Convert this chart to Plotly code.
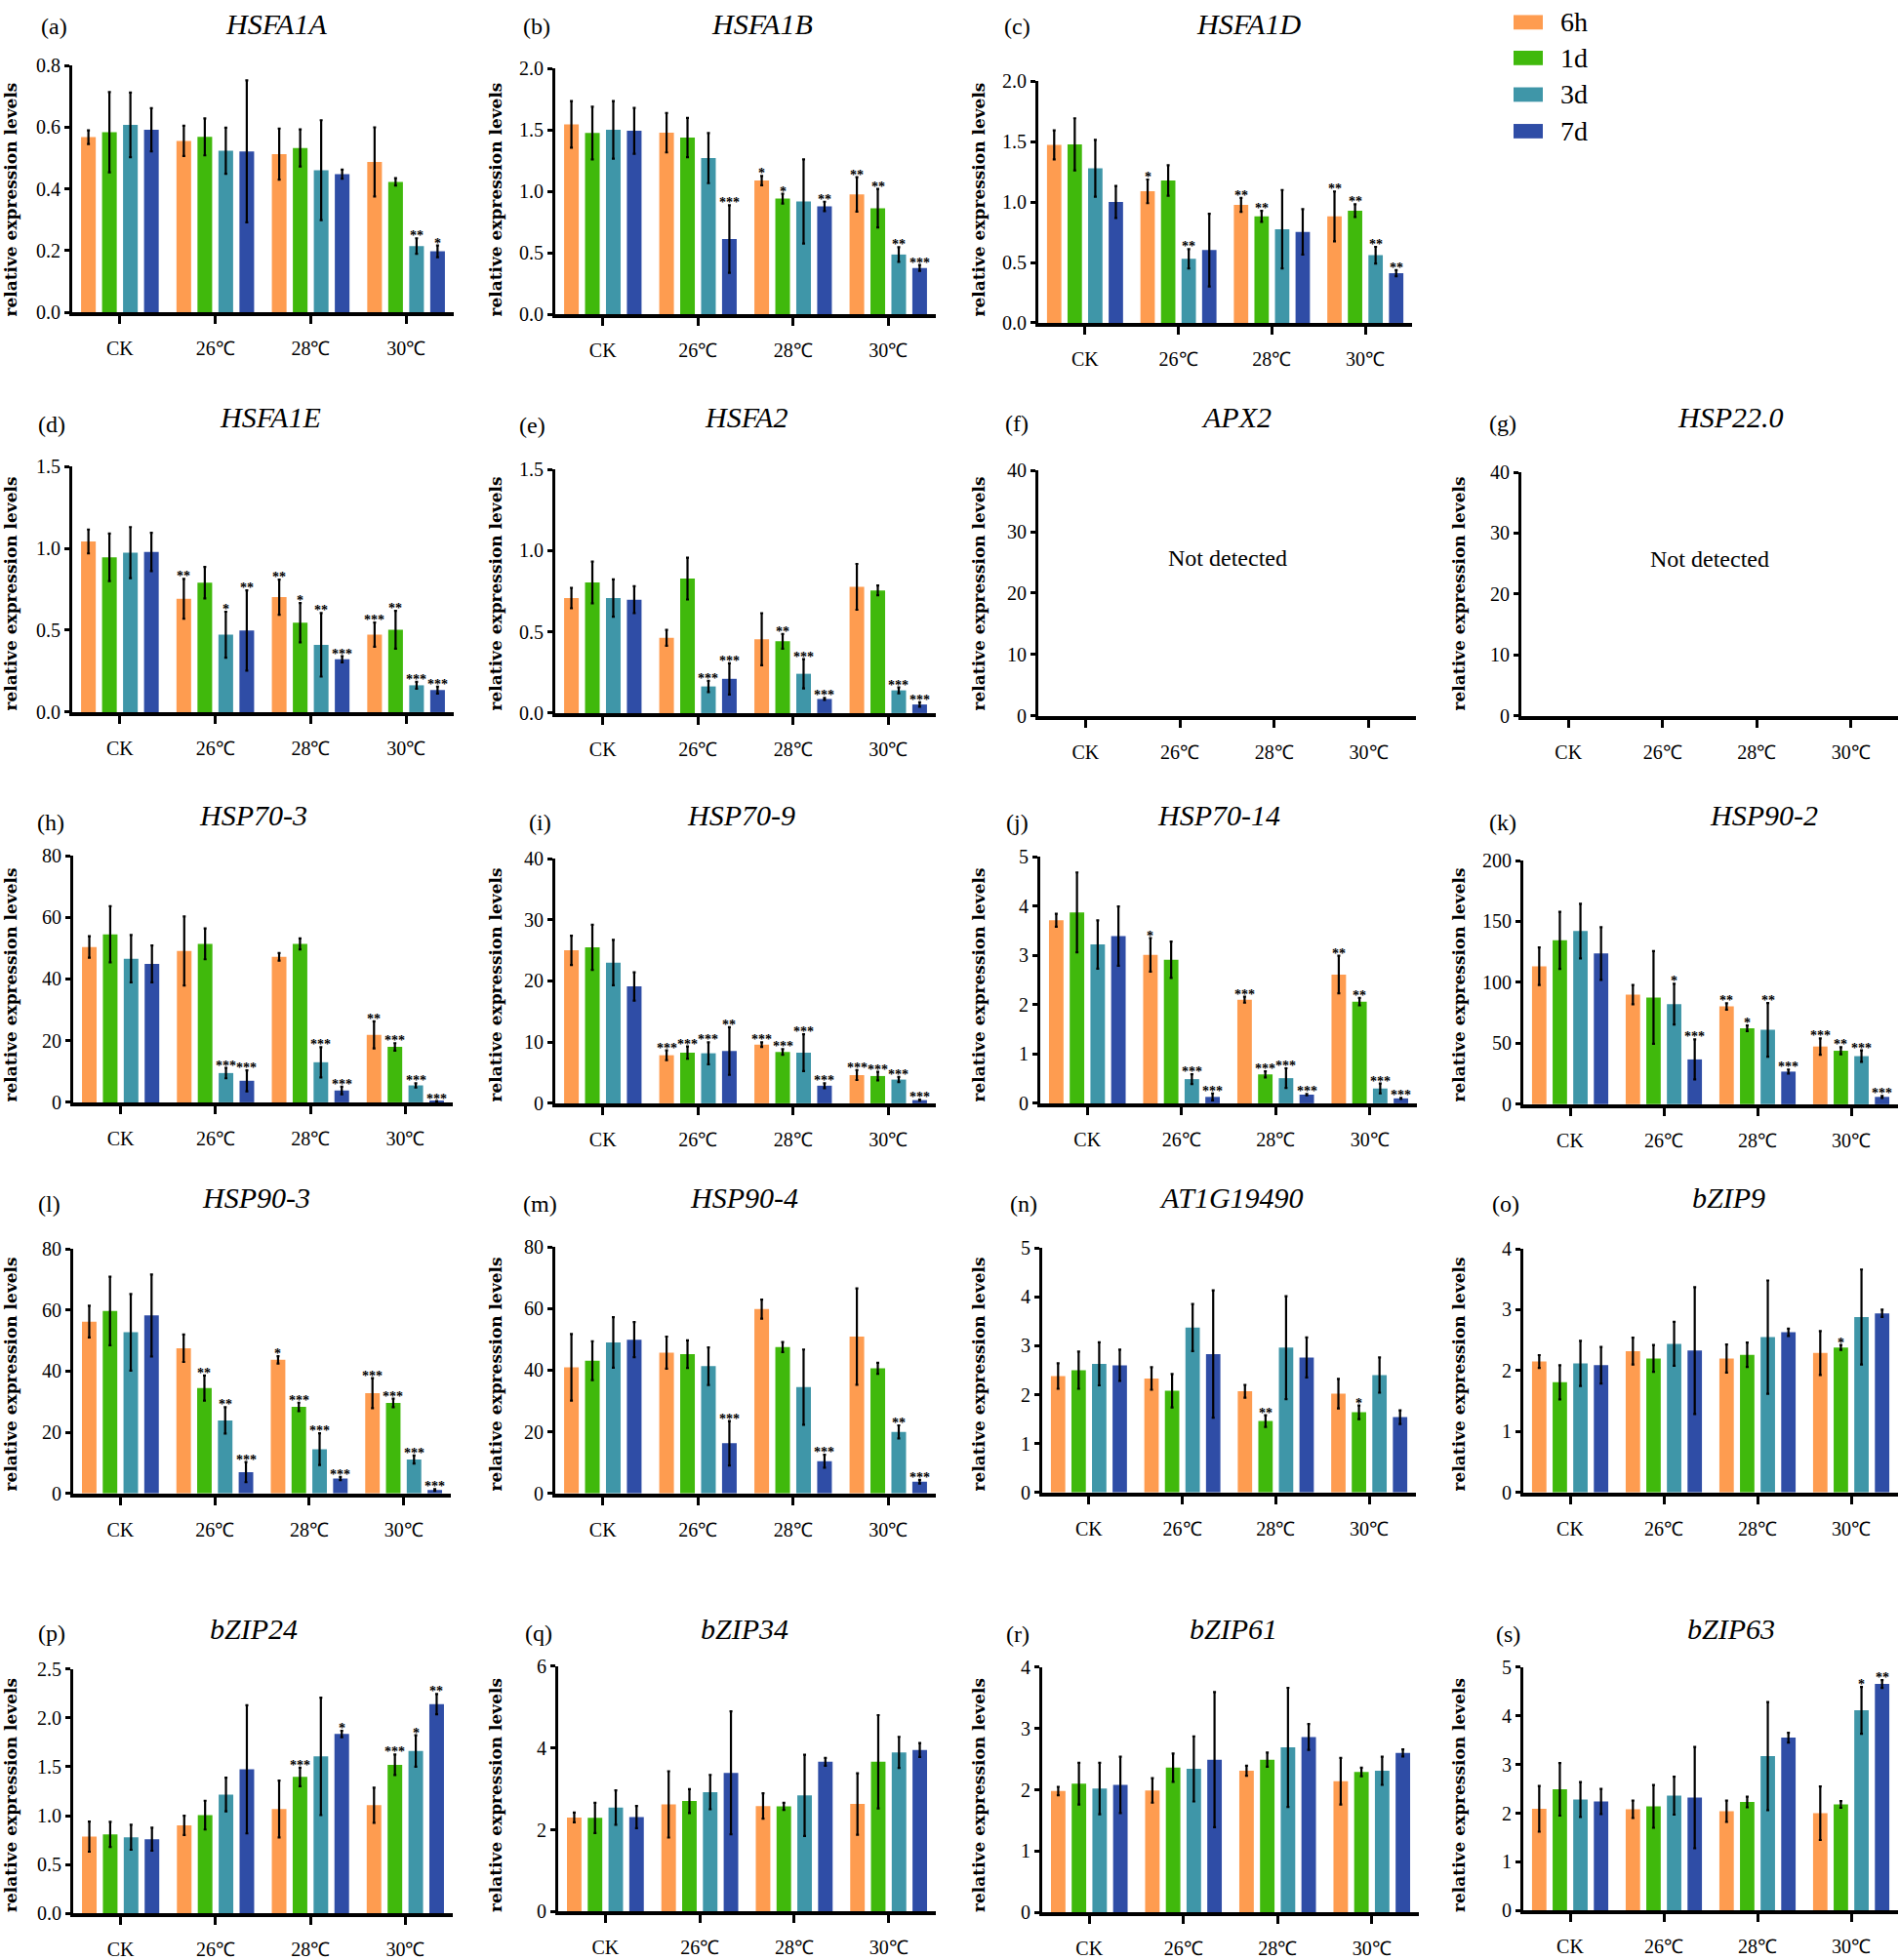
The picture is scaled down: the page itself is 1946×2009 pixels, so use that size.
import plotly.graph_objects as go

W, H = 1946, 2009

categories = ["CK", "26℃", "28℃", "30℃"]
series = ["6h", "1d", "3d", "7d"]
colors = ["#FE9C50", "#40B90C", "#3F96A8", "#2F4DA6"]

# Each gene: mean / err given per temperature group as [6h, 1d, 3d, 7d]
HSFA1A_mean = [[0.568, 0.584, 0.608, 0.592], [0.556, 0.569, 0.524, 0.522], [0.513, 0.533, 0.461, 0.448], [0.488, 0.423, 0.215, 0.198]]
HSFA1A_err = [[0.022, 0.13, 0.105, 0.07], [0.049, 0.06, 0.075, 0.23], [0.083, 0.06, 0.162, 0.015], [0.112, 0.012, 0.025, 0.019]]
HSFA1A_sig = [["", "", "", ""], ["", "", "", ""], ["", "", "", ""], ["", "", "**", "*"]]

HSFA1B_mean = [[1.545, 1.475, 1.501, 1.493], [1.477, 1.438, 1.271, 0.612], [1.088, 0.941, 0.918, 0.878], [0.975, 0.863, 0.486, 0.376]]
HSFA1B_err = [[0.19, 0.215, 0.234, 0.187], [0.16, 0.16, 0.204, 0.275], [0.038, 0.04, 0.343, 0.038], [0.14, 0.157, 0.06, 0.024]]
HSFA1B_sig = [["", "", "", ""], ["", "", "", "***"], ["*", "*", "", "**"], ["**", "**", "**", "***"]]

HSFA1D_mean = [[1.472, 1.477, 1.278, 1.0], [1.088, 1.178, 0.53, 0.602], [0.976, 0.881, 0.775, 0.753], [0.881, 0.928, 0.56, 0.411]]
HSFA1D_err = [[0.12, 0.215, 0.235, 0.133], [0.098, 0.126, 0.08, 0.3], [0.058, 0.045, 0.324, 0.187], [0.206, 0.053, 0.069, 0.025]]
HSFA1D_sig = [["", "", "", ""], ["*", "", "**", ""], ["**", "**", "", ""], ["**", "**", "**", "**"]]

HSFA1E_mean = [[1.042, 0.945, 0.974, 0.978], [0.692, 0.79, 0.473, 0.499], [0.702, 0.546, 0.411, 0.323], [0.473, 0.503, 0.164, 0.135]]
HSFA1E_err = [[0.073, 0.145, 0.156, 0.117], [0.122, 0.096, 0.14, 0.245], [0.107, 0.12, 0.194, 0.019], [0.074, 0.115, 0.021, 0.021]]
HSFA1E_sig = [["", "", "", ""], ["**", "", "*", "**"], ["**", "*", "**", "***"], ["***", "**", "***", "***"]]

HSFA2_mean = [[0.708, 0.804, 0.708, 0.698], [0.463, 0.828, 0.164, 0.211], [0.455, 0.442, 0.242, 0.087], [0.777, 0.755, 0.14, 0.053]]
HSFA2_err = [[0.063, 0.128, 0.115, 0.083], [0.049, 0.129, 0.035, 0.096], [0.16, 0.045, 0.09, 0.006], [0.141, 0.03, 0.018, 0.014]]
HSFA2_sig = [["", "", "", ""], ["", "", "***", "***"], ["", "**", "***", "***"], ["", "", "***", "***"]]

HSP70_3_mean = [[50.4, 54.5, 46.6, 44.9], [49.1, 51.4, 9.5, 7.0], [47.2, 51.4, 13.0, 3.85], [21.9, 18.0, 5.5, 0.3]]
HSP70_3_err = [[3.5, 9.1, 7.7, 6.0], [11.2, 5.0, 1.7, 3.4], [1.25, 1.8, 4.9, 1.2], [4.4, 1.2, 0.7, 0.1]]
HSP70_3_sig = [["", "", "", ""], ["", "", "***", "***"], ["", "", "***", "***"], ["**", "***", "***", "***"]]

HSP70_9_mean = [[25.0, 25.5, 23.0, 19.1], [7.86, 8.28, 8.18, 8.55], [9.59, 8.39, 8.28, 2.88], [4.61, 4.46, 3.88, 0.52]]
HSP70_9_err = [[2.4, 3.7, 3.7, 2.3], [0.8, 1.0, 1.8, 3.9], [0.37, 0.47, 3.0, 0.4], [0.8, 0.7, 0.42, 0.1]]
HSP70_9_sig = [["", "", "", ""], ["***", "***", "***", "**"], ["***", "***", "***", "***"], ["***", "***", "***", "***"]]

HSP70_14_mean = [[3.71, 3.87, 3.22, 3.39], [3.01, 2.91, 0.49, 0.13], [2.10, 0.586, 0.51, 0.176], [2.61, 2.06, 0.3, 0.1]]
HSP70_14_err = [[0.13, 0.81, 0.49, 0.6], [0.34, 0.37, 0.1, 0.07], [0.06, 0.06, 0.2, 0.015], [0.38, 0.075, 0.1, 0.01]]
HSP70_14_sig = [["", "", "", ""], ["*", "", "***", "***"], ["***", "***", "***", "***"], ["**", "**", "***", "***"]]

HSP90_2_mean = [[113.2, 134.5, 142.1, 123.7], [90.0, 87.6, 82.1, 36.8], [80.3, 62.4, 61.1, 26.8], [47.4, 43.9, 39.5, 6.05]]
HSP90_2_err = [[15.4, 23.4, 22.4, 21.6], [7.9, 38.0, 16.7, 16.4], [2.6, 2.3, 22.0, 1.7], [6.7, 2.9, 4.7, 0.8]]
HSP90_2_sig = [["", "", "", ""], ["", "", "*", "***"], ["**", "*", "**", "***"], ["***", "**", "***", "***"]]

HSP90_3_mean = [[56.2, 59.7, 52.7, 58.2], [47.5, 34.5, 23.9, 7.0], [43.7, 28.3, 14.5, 4.9], [32.8, 29.6, 11.1, 1.15]]
HSP90_3_err = [[5.2, 11.2, 12.5, 13.4], [4.5, 4.1, 4.3, 3.3], [1.2, 1.4, 5.2, 0.5], [4.9, 1.4, 1.3, 0.3]]
HSP90_3_sig = [["", "", "", ""], ["", "**", "**", "***"], ["*", "***", "***", "***"], ["***", "***", "***", "***"]]

HSP90_4_mean = [[40.9, 43.1, 49.0, 49.9], [45.7, 45.2, 41.3, 16.3], [59.8, 47.5, 34.5, 10.5], [50.9, 40.6, 20.0, 3.85]]
HSP90_4_err = [[10.8, 6.3, 8.2, 5.7], [5.2, 4.5, 6.1, 7.2], [3.1, 1.6, 12.2, 2.1], [15.6, 1.8, 2.1, 0.6]]
HSP90_4_sig = [["", "", "", ""], ["", "", "", "***"], ["", "", "", "***"], ["", "", "**", "***"]]

AT1G19490_mean = [[2.38, 2.5, 2.63, 2.6], [2.33, 2.08, 3.37, 2.83], [2.07, 1.46, 2.96, 2.76], [2.02, 1.64, 2.4, 1.54]]
AT1G19490_err = [[0.26, 0.38, 0.44, 0.32], [0.23, 0.34, 0.48, 1.3], [0.13, 0.12, 1.05, 0.41], [0.3, 0.14, 0.36, 0.14]]
AT1G19490_sig = [["", "", "", ""], ["", "", "", ""], ["", "**", "", ""], ["", "*", "", ""]]

bZIP9_mean = [[2.15, 1.81, 2.12, 2.09], [2.32, 2.2, 2.44, 2.33], [2.2, 2.26, 2.55, 2.63], [2.29, 2.38, 2.88, 2.94]]
bZIP9_err = [[0.105, 0.28, 0.37, 0.3], [0.22, 0.22, 0.36, 1.04], [0.23, 0.2, 0.93, 0.06], [0.36, 0.04, 0.78, 0.06]]
bZIP9_sig = [["", "", "", ""], ["", "", "", ""], ["", "", "", ""], ["", "*", "", ""]]

bZIP24_mean = [[0.786, 0.809, 0.78, 0.76], [0.901, 1.006, 1.216, 1.474], [1.068, 1.396, 1.606, 1.835], [1.107, 1.52, 1.661, 2.14]]
bZIP24_err = [[0.154, 0.128, 0.128, 0.118], [0.098, 0.147, 0.172, 0.655], [0.29, 0.095, 0.6, 0.033], [0.18, 0.104, 0.16, 0.103]]
bZIP24_sig = [["", "", "", ""], ["", "", "", ""], ["", "***", "", "*"], ["", "***", "*", "**"]]

bZIP34_mean = [[2.3, 2.29, 2.54, 2.31], [2.62, 2.7, 2.92, 3.39], [2.58, 2.57, 2.84, 3.66], [2.63, 3.66, 3.89, 3.95]]
bZIP34_err = [[0.12, 0.37, 0.42, 0.27], [0.81, 0.29, 0.42, 1.5], [0.31, 0.086, 0.99, 0.094], [0.75, 1.14, 0.38, 0.17]]
bZIP34_sig = [["", "", "", ""]] * 4

bZIP61_mean = [[1.98, 2.1, 2.02, 2.08], [1.99, 2.36, 2.34, 2.49], [2.31, 2.49, 2.69, 2.86], [2.14, 2.29, 2.31, 2.6]]
bZIP61_err = [[0.068, 0.34, 0.42, 0.46], [0.2, 0.23, 0.53, 1.1], [0.08, 0.115, 0.97, 0.21], [0.38, 0.07, 0.23, 0.057]]
bZIP61_sig = [["", "", "", ""]] * 4

bZIP63_mean = [[2.09, 2.49, 2.28, 2.24], [2.08, 2.14, 2.36, 2.32], [2.04, 2.23, 3.17, 3.55], [2.0, 2.18, 4.11, 4.65]]
bZIP63_err = [[0.47, 0.54, 0.36, 0.26], [0.18, 0.44, 0.39, 1.04], [0.22, 0.11, 1.11, 0.1], [0.55, 0.07, 0.48, 0.08]]
bZIP63_sig = [["", "", "", ""], ["", "", "", ""], ["", "", "", ""], ["", "", "*", "**"]]

# panel letter, gene title, data (None = not detected), y max, y dtick, tick format
panels = [
    ("(a)", "HSFA1A", (HSFA1A_mean, HSFA1A_err, HSFA1A_sig), 0.8, 0.2, ".1f"),
    ("(b)", "HSFA1B", (HSFA1B_mean, HSFA1B_err, HSFA1B_sig), 2.0, 0.5, ".1f"),
    ("(c)", "HSFA1D", (HSFA1D_mean, HSFA1D_err, HSFA1D_sig), 2.0, 0.5, ".1f"),
    ("(d)", "HSFA1E", (HSFA1E_mean, HSFA1E_err, HSFA1E_sig), 1.5, 0.5, ".1f"),
    ("(e)", "HSFA2", (HSFA2_mean, HSFA2_err, HSFA2_sig), 1.5, 0.5, ".1f"),
    ("(f)", "APX2", None, 40, 10, ""),
    ("(g)", "HSP22.0", None, 40, 10, ""),
    ("(h)", "HSP70-3", (HSP70_3_mean, HSP70_3_err, HSP70_3_sig), 80, 20, ""),
    ("(i)", "HSP70-9", (HSP70_9_mean, HSP70_9_err, HSP70_9_sig), 40, 10, ""),
    ("(j)", "HSP70-14", (HSP70_14_mean, HSP70_14_err, HSP70_14_sig), 5, 1, ""),
    ("(k)", "HSP90-2", (HSP90_2_mean, HSP90_2_err, HSP90_2_sig), 200, 50, ""),
    ("(l)", "HSP90-3", (HSP90_3_mean, HSP90_3_err, HSP90_3_sig), 80, 20, ""),
    ("(m)", "HSP90-4", (HSP90_4_mean, HSP90_4_err, HSP90_4_sig), 80, 20, ""),
    ("(n)", "AT1G19490", (AT1G19490_mean, AT1G19490_err, AT1G19490_sig), 5, 1, ""),
    ("(o)", "bZIP9", (bZIP9_mean, bZIP9_err, bZIP9_sig), 4, 1, ""),
    ("(p)", "bZIP24", (bZIP24_mean, bZIP24_err, bZIP24_sig), 2.5, 0.5, ".1f"),
    ("(q)", "bZIP34", (bZIP34_mean, bZIP34_err, bZIP34_sig), 6, 2, ""),
    ("(r)", "bZIP61", (bZIP61_mean, bZIP61_err, bZIP61_sig), 4, 1, ""),
    ("(s)", "bZIP63", (bZIP63_mean, bZIP63_err, bZIP63_sig), 5, 1, ""),
]
not_detected_text = "Not detected"
y_title = "relative expression levels"

# ---------------- layout geometry (pixels) ----------------
# (x_axis_left, x_axis_right, y_top, y_zero)
boxes = [
    (74, 465, 57, 313), (569, 959, 60, 315), (1064, 1447, 73, 324),
    (74, 465, 473, 728), (569, 959, 476, 729), (1064, 1451, 477, 732), (1559, 1945, 479, 732),
    (75, 464, 877, 1133), (569, 959, 880, 1134), (1066, 1452, 878, 1134), (1561, 1945, 882, 1135),
    (75, 462, 1285, 1539), (569, 959, 1283, 1539), (1068, 1451, 1284, 1538), (1561, 1945, 1285, 1538),
    (75, 464, 1721, 1975), (572, 959, 1718, 1973), (1068, 1454, 1719, 1974), (1561, 1945, 1719, 1972),
]
label_pos = [(55, 16), (550, 16), (1042, 16),
             (53, 429), (545, 430), (1042, 428), (1540, 428),
             (52, 842), (553, 842), (1042, 842), (1540, 842),
             (50, 1238), (553, 1238), (1049, 1238), (1543, 1238),
             (53, 1684), (552, 1684), (1043, 1685), (1545, 1685)]
title_pos = [(283, 14), (781, 14), (1279, 14),
             (277, 422), (764, 422), (1267, 422), (1773, 422),
             (259, 835), (759, 835), (1249, 835), (1807, 835),
             (262, 1232), (762, 1232), (1262, 1232), (1771, 1232),
             (260, 1679), (763, 1679), (1264, 1679), (1774, 1679)]
ytitle_x = {0: 11, 1: 508, 2: 1003, 3: 1495}
ytitle_y = [196, 605, 1011, 1415, 1852]
panel_rowcol = [(0, 0), (0, 1), (0, 2),
                (1, 0), (1, 1), (1, 2), (1, 3),
                (2, 0), (2, 1), (2, 2), (2, 3),
                (3, 0), (3, 1), (3, 2), (3, 3),
                (4, 0), (4, 1), (4, 2), (4, 3)]

SERIF = "Liberation Serif"
BARGAP = 0.12
BARGROUPGAP = 0.3


def px(xp):
    return xp / W


def py(yp):
    return 1 - yp / H


fig = go.Figure()
annotations = []
layout_axes = {}

for i, (letter, gene, data, ymax, dtick, tfmt) in enumerate(panels):
    n = i + 1
    xa = "x" if n == 1 else f"x{n}"
    ya = "y" if n == 1 else f"y{n}"
    xkey = "xaxis" if n == 1 else f"xaxis{n}"
    ykey = "yaxis" if n == 1 else f"yaxis{n}"
    x0, x1, yt, yz = boxes[i]
    layout_axes[xkey] = dict(
        domain=[px(x0), px(x1)], anchor=ya, range=[-0.5, 3.5],
        tickmode="array", tickvals=[0, 1, 2, 3], ticktext=categories,
        showline=True, linewidth=4, linecolor="black", mirror=False,
        ticks="outside", ticklen=8, tickwidth=3, tickcolor="black",
        ticklabelstandoff=8,
        tickfont=dict(family=SERIF, size=20, color="black"),
        showgrid=False, zeroline=False, fixedrange=True,
    )
    layout_axes[ykey] = dict(
        domain=[py(yz), py(yt)], anchor=xa, range=[0, ymax],
        tick0=0, dtick=dtick, tickformat=tfmt,
        showline=True, linewidth=3, linecolor="black",
        ticks="outside", ticklen=5, tickwidth=3, tickcolor="black",
        tickfont=dict(family=SERIF, size=20, color="black"),
        showgrid=False, zeroline=False, fixedrange=True,
    )
    if data is not None:
        mean, err, sig = data
        for j, s in enumerate(series):
            fig.add_trace(go.Bar(
                x=[0, 1, 2, 3], y=[row[j] for row in mean], name=s,
                marker=dict(color=colors[j], line=dict(width=0)),
                error_y=dict(type="data", array=[row[j] for row in err], visible=True,
                             color="black", thickness=2.2, width=1.5),
                xaxis=xa, yaxis=ya, showlegend=False, hoverinfo="skip",
            ))
        slot = (1 - BARGAP) / 4
        for g in range(4):
            for j in range(4):
                if sig[g][j]:
                    annotations.append(dict(
                        x=g + (j - 1.5) * slot, y=mean[g][j] + err[g][j],
                        xref=xa, yref=ya, text=sig[g][j], showarrow=False,
                        yanchor="bottom", xanchor="center", yshift=-6, borderpad=0,
                        font=dict(family=SERIF, size=14, color="black", weight="bold"),
                    ))
    else:
        annotations.append(dict(
            x=1.5, y=25.7, xref=xa, yref=ya, text=not_detected_text, showarrow=False,
            font=dict(family=SERIF, size=24, color="black"),
        ))
    # panel letter
    lx, ly = label_pos[i]
    annotations.append(dict(x=px(lx), y=py(ly), xref="paper", yref="paper", text=letter,
                            showarrow=False, xanchor="center", yanchor="middle",
                            font=dict(family=SERIF, size=24, color="black")))
    tx, ty = title_pos[i]
    annotations.append(dict(x=px(tx), y=py(ty), xref="paper", yref="paper", text=f"<i>{gene}</i>",
                            showarrow=False, xanchor="center", yanchor="middle",
                            font=dict(family=SERIF, size=30, color="black")))
    r, c = panel_rowcol[i]
    annotations.append(dict(x=px(ytitle_x[c]), y=py(ytitle_y[r]), xref="paper", yref="paper",
                            text=y_title, textangle=-90, showarrow=False,
                            xanchor="center", yanchor="middle",
                            font=dict(family="DejaVu Serif", size=17, color="black", weight="bold")))

# legend (drawn manually)
shapes = []
leg_y = [12, 49, 87, 125]
for j, s in enumerate(series):
    cy = leg_y[j]
    shapes.append(dict(type="rect", xref="paper", yref="paper",
                       x0=px(1551), x1=px(1581), y0=py(cy + 7.5), y1=py(cy - 7.5),
                       fillcolor=colors[j], line=dict(width=0)))
    annotations.append(dict(x=px(1597), y=py(cy), xref="paper", yref="paper", text=s,
                            showarrow=False, xanchor="left", yanchor="middle",
                            font=dict(family=SERIF, size=28, color="black")))

fig.update_layout(
    width=W, height=H, margin=dict(l=0, r=0, t=0, b=0),
    paper_bgcolor="white", plot_bgcolor="white",
    barmode="group", bargap=BARGAP, bargroupgap=BARGROUPGAP,
    showlegend=False, annotations=annotations, shapes=shapes,
    **layout_axes,
)

fig.write_html("out.html", config={"displayModeBar": False},
               post_script="document.body.style.margin='0';document.body.style.overflow='hidden';")
